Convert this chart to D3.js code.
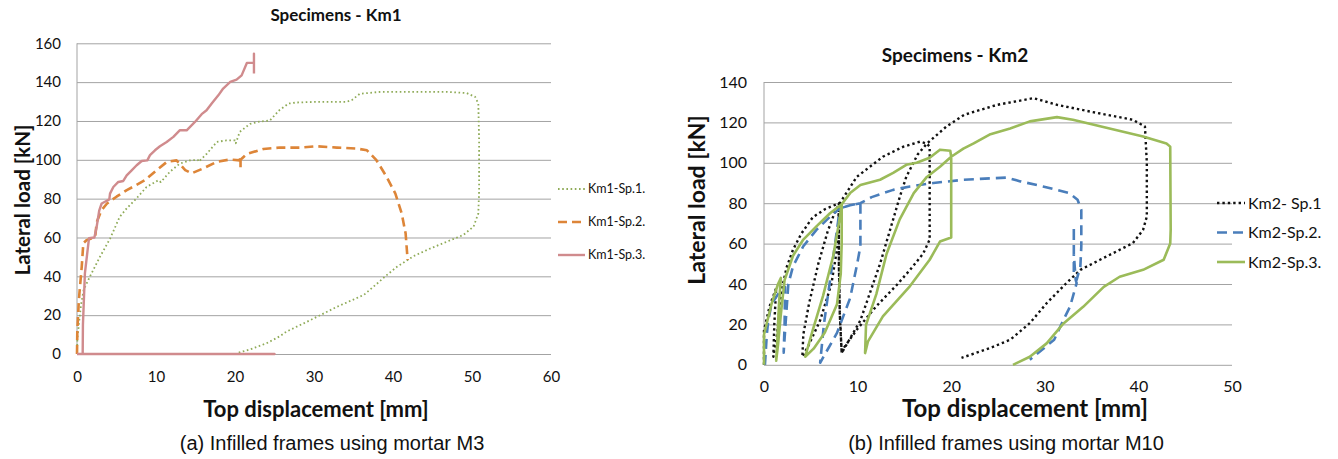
<!DOCTYPE html>
<html>
<head>
<meta charset="utf-8">
<script src="https://cdn.jsdelivr.net/npm/d3@7"></script>
<style>
  body { margin: 0; background: #fff; }
  svg text { font-family: Lato, 'Open Sans', sans-serif; fill: #111; }
  svg text.caption { font-family: 'Liberation Sans', Arial, sans-serif; }
</style>
</head>
<body>
<div id="main"></div>
<script>

/// data: [top displacement mm, lateral load kN] ///

// (a) mortar M3
var km1Sp1 = [[0,0],[0.05,8],[0.2,14],[0.5,25],[0.84,33],[1.65,40],[2.9,50],[4.2,59.5],[5.4,70.6],[6.3,75],[7.5,80],[8.8,86],[10.3,89.5],[10.6,88.5],
  [11.8,94],[13,98],[14.3,99.7],[15.3,100],[15.4,99],[16.4,103],[17.7,109.2],[18.9,110],[20,110],[20.1,108.5],[20.6,114.4],[21.9,118.5],
  [23.1,119.7],[24.4,120.2],[25.6,125.5],[26.8,129],[27.8,129.5],[29.9,129.8],[34.1,129.8],[34.8,130.8],[35.8,134],[38.4,135],[42.6,135],
  [46.8,135],[49.3,134.4],[50.4,132.4],[50.8,129],[50.9,110],[50.9,84],[50.8,72.4],[50.2,65.6],[48.9,61.3],[46.8,57.8],[44.7,54.3],[42.6,50.4],
  [40.5,44.9],[39.2,40.6],[38,36.3],[36.3,30.4],[34.8,27.7],[32.9,24.3],[30.8,20],[28.7,15.8],[26.5,11.5],[25.7,9.2],[24,5.5],[22,2.5],[20.3,0.5]];

var km1Sp2 = [[0,0],[0.04,12],[0.2,25],[0.3,31],[0.6,45],[0.8,57],[1.2,58.6],[2.3,60.3],[2.5,68],[3.1,74],[3.8,77.5],[5,81],[6.3,84.4],
  [7.5,87],[8.6,89.5],[10.1,94.7],[11.4,99],[12.6,99.7],[13.7,94.7],[14.5,93],[16,95.6],[17.7,99],[19.4,100.2],[20.6,99.7],[20.7,102],
  [20.7,96],[20.7,100],[21.5,103],[23.6,105.6],[25.7,106.3],[28.2,106.3],[30.3,107],[32.9,106.3],[35.4,105.8],[36.7,104.9],[37.9,99.8],
  [39.2,91.2],[40.3,82.6],[41.1,72.4],[41.6,62],[41.85,48.4]];

var km1Sp3 = [[0,0],[25,0],[0.72,0],[0.75,15],[1.0,41.5],[1.52,59.7],[2.2,60],[2.49,65.5],[2.82,74],[3.12,77.5],[3.54,78.4],[4.09,79.6],
  [4.18,82.6],[4.6,86],[5.23,88.6],[5.86,89.1],[6.29,92],[6.92,94.6],[7.55,97.2],[8.19,99.4],[8.9,99.7],[9.24,102.4],[9.87,104.9],[10.5,107],
  [11.35,109.2],[12.2,111.8],[13.0,115.2],[13.88,115.2],[14.93,119.5],[15.78,123.5],[16.4,125.5],[17.05,129],[17.89,133.2],[18.5,136.7],
  [19.4,140.1],[20.2,141.3],[20.84,143.5],[21.5,149.9],[22.32,149.9],[22.4,149.9],[22.4,154.7],[22.4,144.4]];

// (b) mortar M10
var km2Sp1 = [[0,0],[0,17],[0.6,29],[1.3,38],[1.1,20],[1.0,4],[1.4,15],[1.8,35],[2.4,48],[3.1,57],[4,65],[5.2,73],[6.5,77],[8,80],
  [7.9,60],[7.2,40],[6,22],[4.8,10],[4.1,4],[4.2,15],[4.8,30],[5.8,50],[6.8,66],[7.6,76],[8.1,80],
  [9.9,93],[12.7,103],[14.9,108],[16.7,110.5],[17.4,109.5],[17.7,108],[17.7,85],[17.7,62],[17,55],[15.6,47],[14.2,39.6],[12,29],[9.9,17.3],
  [8.5,8.2],[8.3,5.8],[8.1,25],[8.0,50],[8.0,78],[8.0,50],[8.1,25],[8.3,5.8],
  [10.3,22],[12.4,50],[14.5,83],[15.2,93],[16.4,104],[17.4,109.5],
  [19.5,118],[21.4,123.8],[24.9,128.7],[28.8,132],[31.3,128.7],[34.8,125.4],[39.4,121.3],[40.7,118],[40.9,100],[40.9,73.4],[40.5,66.8],
  [39.4,60.2],[35.9,52],[33.8,47],[32.3,40.4],[30.2,30.5],[28.4,20.6],[26.3,12.4],[24.1,8.2],[21.1,3.4]];

var km2Sp2 = [[0.1,0],[0.3,15],[0.46,22],[0.8,30],[1.5,35],[2.25,38.6],[2.2,20],[2.1,6],[2.3,20],[2.6,40],[3.1,48.7],[4.2,58.7],[5.6,66.8],
  [7.05,73.3],[8.1,77.4],[7.6,60],[7.0,40],[6.4,20],[6.0,1],[7.8,15.8],[9.2,33],[9.9,48.7],[10.3,58.6],[10.3,80],[9.2,79],[8.1,77.4],
  [9.2,79],[10.3,80],[11.5,83],[13.8,86.6],[15.6,88.3],[18.1,90],[21.3,91.6],[25.9,92.7],[27.4,90.8],[29.8,88.3],[32.6,85],[33.5,81.7],
  [33.9,76.7],[33.9,58.6],[33.8,48.7],[33.4,42],[33.1,45],[33.1,68.5],[33.1,55],[33.3,42],[33.4,40.4],[32.7,28.8],[32,22.3],[31,12.4],[28.4,2.5]];

var km2Sp3 = [[0,0],[0,15],[0.8,30],[1.5,40],[1.8,43],[1.6,30],[1.4,10],[1.3,2],[1.5,10],[1.8,25],[2.2,42],[3.1,54],[4.2,62],[5.6,68.5],
  [7.05,75],[8.3,79.5],[8.3,60],[8.2,45],[7.8,30],[6.5,16],[5.3,8],[4.4,4],[5.2,17],[6.3,34],[7.4,54],[8.0,70],[8.3,79.5],
  [9.2,85],[10.3,89],[12.4,91.6],[13.8,95],[15.2,99],[16.3,100],[17.7,102.5],[18.8,106.5],[19.9,106],
  [20,103],[20,63],[18.8,61],[17.7,52],[15.6,39],[12.7,24],[11.1,11.5],[10.8,5.8],
  [10.9,19.8],[12,35],[13.1,55],[14.5,72],[16,85],[17.4,93],[18.8,98],[20,103],
  [21.3,107],[22.4,109.6],[24.1,114],[26.3,117],[28.4,120.5],[31.3,122.6],[33,121.3],[40.5,113],[43,109.6],[43.4,108],[43.45,67],
  [43.4,60],[42.7,52],[40.5,47],[38,43.6],[36.3,38.6],[34.1,28.7],[32,20.5],[30.2,10.6],[28.4,4],[26.6,0]];

// legend names & ticks
var km1Names = ['Km1-Sp.1.', 'Km1-Sp.2.', 'Km1-Sp.3.'];
var km2Names = ['Km2- Sp.1', 'Km2-Sp.2.', 'Km2-Sp.3.'];
var km1XTicks = [0, 10, 20, 30, 40, 50, 60];
var km1YTicks = [0, 20, 40, 60, 80, 100, 120, 140, 160];
var km2XTicks = [0, 10, 20, 30, 40, 50];
var km2YTicks = [0, 20, 40, 60, 80, 100, 120, 140];

/// drawing ///

const svg = d3.select('#main')
            .append('svg')
            .attr('width', 1338)
            .attr('height', 459);

const gridColor = '#a3a3a3';

function drawPanel(p) {
    const x = d3.scaleLinear().domain([0, p.xTicks[p.xTicks.length - 1]]).range([p.left, p.right]);
    const y = d3.scaleLinear().domain([0, p.yTicks[p.yTicks.length - 1]]).range([p.bottom, p.top]);
    const g = svg.append('g');

    // horizontal gridlines
    g.append('g')
        .attr('transform', `translate(${p.left},0)`)
        .call(d3.axisLeft(y).tickValues(p.yTicks).tickSize(-(p.right - p.left)).tickFormat(''))
        .call(a => a.select('.domain').remove())
        .selectAll('line')
        .attr('stroke', gridColor);

    // vertical axis line
    g.append('line')
        .attr('x1', p.left).attr('x2', p.left)
        .attr('y1', y(p.yTicks[p.yTicks.length - 1])).attr('y2', y(0))
        .attr('stroke', gridColor);

    // tick labels
    g.append('g')
        .attr('transform', `translate(${p.left},0)`)
        .call(d3.axisLeft(y).tickValues(p.yTicks).tickSize(0).tickPadding(p.yPad))
        .call(a => a.select('.domain').remove())
        .selectAll('text').style('font-size', p.tickFont + 'px');

    g.append('g')
        .attr('transform', `translate(0,${p.bottom})`)
        .call(d3.axisBottom(x).tickValues(p.xTicks).tickSize(0).tickPadding(p.xPad))
        .call(a => a.select('.domain').remove())
        .selectAll('text').style('font-size', p.tickFont + 'px');

    // curves
    const line = d3.line().x(d => x(d[0])).y(d => y(d[1]));
    p.series.forEach(s => {
        g.append('path')
            .datum(s.data)
            .attr('d', line)
            .attr('fill', 'none')
            .attr('stroke', s.color)
            .attr('stroke-width', s.width)
            .attr('stroke-dasharray', s.dash)
            .attr('stroke-linejoin', 'round');
    });

    // legend
    p.series.forEach((s, i) => {
        const ly = p.legendY + i * p.legendStep;
        g.append('line')
            .attr('x1', p.legendX).attr('x2', p.legendX + p.legendLen)
            .attr('y1', ly).attr('y2', ly)
            .attr('stroke', s.color)
            .attr('stroke-width', s.width)
            .attr('stroke-dasharray', s.dash);
        g.append('text')
            .attr('x', p.legendX + p.legendLen + 3)
            .attr('y', ly)
            .attr('dy', '0.35em')
            .style('font-size', p.legendFont + 'px')
            .text(s.name);
    });

    // titles
    g.append('text')
        .attr('x', p.titleX).attr('y', p.titleY)
        .attr('text-anchor', 'middle')
        .style('font-size', p.titleFont + 'px').style('font-weight', 'bold')
        .text(p.title);

    g.append('text')
        .attr('transform', `translate(${p.yTitleX},${p.yTitleY}) rotate(-90)`)
        .attr('text-anchor', 'middle')
        .style('font-size', p.axisFont + 'px').style('font-weight', 'bold')
        .text('Lateral load [kN]');

    g.append('text')
        .attr('x', p.xTitleX).attr('y', p.xTitleY)
        .attr('text-anchor', 'middle')
        .style('font-size', p.xAxisFont + 'px').style('font-weight', 'bold')
        .text('Top displacement [mm]');

    g.append('text')
        .attr('class', 'caption')
        .attr('x', p.capX).attr('y', 450)
        .attr('text-anchor', 'middle')
        .style('font-size', '20px')
        .text(p.caption);
}

drawPanel({
    left: 77, right: 551, top: 43.3, bottom: 354,
    xTicks: km1XTicks, yTicks: km1YTicks,
    tickFont: 15, yPad: 16, xPad: 17,
    title: 'Specimens - Km1', titleX: 336, titleY: 21, titleFont: 17,
    yTitleX: 30, yTitleY: 200, axisFont: 20.5,
    xTitleX: 316, xTitleY: 417, xAxisFont: 22,
    caption: '(a) Infilled frames using mortar M3', capX: 332,
    legendX: 558, legendY: 189, legendStep: 33, legendLen: 27, legendFont: 12.5,
    series: [
        { name: km1Names[0], data: km1Sp1, color: '#8fab58', width: 1.8, dash: '1.6,2.6' },
        { name: km1Names[1], data: km1Sp2, color: '#dd8538', width: 2.6, dash: '9,5' },
        { name: km1Names[2], data: km1Sp3, color: '#d08b8d', width: 2.4, dash: null }
    ]
});

drawPanel({
    left: 764, right: 1232, top: 82, bottom: 364.8,
    xTicks: km2XTicks, yTicks: km2YTicks,
    tickFont: 16, yPad: 17, xPad: 16,
    title: 'Specimens - Km2', titleX: 955, titleY: 62, titleFont: 19,
    yTitleX: 705, yTitleY: 200, axisFont: 23,
    xTitleX: 1025, xTitleY: 417, xAxisFont: 24,
    caption: '(b) Infilled frames using mortar M10', capX: 1006,
    legendX: 1217, legendY: 203, legendStep: 29.5, legendLen: 28, legendFont: 16,
    series: [
        { name: km2Names[0], data: km2Sp1, color: '#111111', width: 2.4, dash: '2.4,3' },
        { name: km2Names[1], data: km2Sp2, color: '#4a7ebb', width: 2.6, dash: '10,6' },
        { name: km2Names[2], data: km2Sp3, color: '#9bbb59', width: 2.6, dash: null }
    ]
});

</script>
</body>
</html>
